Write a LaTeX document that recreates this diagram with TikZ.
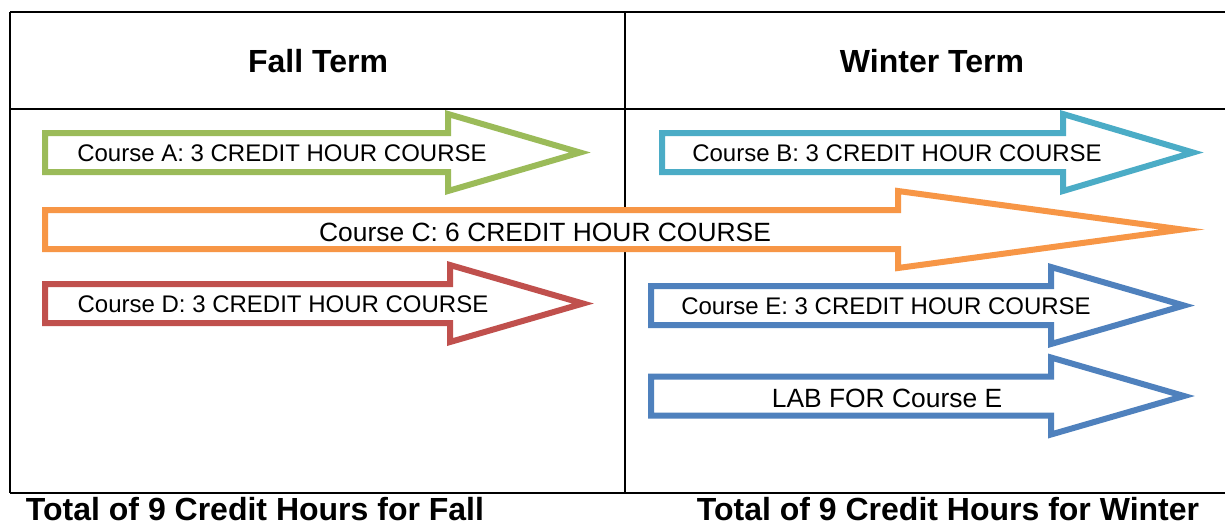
\documentclass[tikz,border=0pt]{standalone}
\usepackage{fontspec}
\setmainfont{Liberation Sans}
\definecolor{fallgreen}{HTML}{9BBB59}
\definecolor{winterteal}{HTML}{4BACC6}
\definecolor{yearorange}{HTML}{F79646}
\definecolor{fallred}{HTML}{C0504D}
\definecolor{winterblue}{HTML}{4F81BD}
\tikzset{
  termhead/.style={font=\fontsize{16}{19}\selectfont\bfseries},
  coursetext/.style={font=\fontsize{12}{14}\selectfont},
  coursebig/.style={font=\fontsize{13.2}{15}\selectfont},
}
\begin{document}
\begin{tikzpicture}[x={(0.5pt, 0pt)}, y={(0pt, -0.5pt)}]
  \useasboundingbox[fill=white] (0, 0) rectangle (1225, 527);

  \draw[line width=1pt] (10, 12) to (1225, 12);
  \draw[line width=1pt] (10, 109) to (1225, 109);
  \draw[line width=1pt] (10, 493) to (1225, 493);
  \draw[line width=1pt] (10, 12) to (10, 493);
  \draw[line width=1pt] (625, 12) to (625, 493);

  \node[termhead] (fall) at (318, 61) {Fall Term};
  \node[termhead] (winter) at (932, 61) {Winter Term};

  \foreach \c/\xa/\ym/\xb/\xt in {fallgreen/45/152.5/448/580,
                                  winterteal/662/152.5/1063/1193,
                                  yearorange/45/229.5/898/1182,
                                  fallred/45/303.5/450/583,
                                  winterblue/651/305.5/1051/1184,
                                  winterblue/651/396/1051/1184} {
    \draw[\c, line width=3pt, fill=white, line join=miter]
      (\xa, \ym - 19.5) -- (\xb, \ym - 19.5) -- (\xb, \ym - 38.5) -- (\xt, \ym)
      -- (\xb, \ym + 38.5) -- (\xb, \ym + 19.5) -- (\xa, \ym + 19.5) -- cycle;
  }

  \node[coursetext] (courseA) at (282, 153) {Course A: 3 CREDIT HOUR COURSE};
  \node[coursetext] (courseB) at (897, 153) {Course B: 3 CREDIT HOUR COURSE};
  \node[coursebig] (courseC) at (545, 232) {Course C: 6 CREDIT HOUR COURSE};
  \node[coursetext] (courseD) at (283, 304) {Course D: 3 CREDIT HOUR COURSE};
  \node[coursetext] (courseE) at (886, 306) {Course E: 3 CREDIT HOUR COURSE};
  \node[coursebig] (labE) at (887, 398) {LAB FOR Course E};

  \node[termhead, inner sep=0pt] (fallsum) at (255, 509) {Total of 9 Credit Hours for Fall};
  \node[termhead, inner sep=0pt] (wintersum) at (948, 509) {Total of 9 Credit Hours for Winter};
\end{tikzpicture}
\end{document}
